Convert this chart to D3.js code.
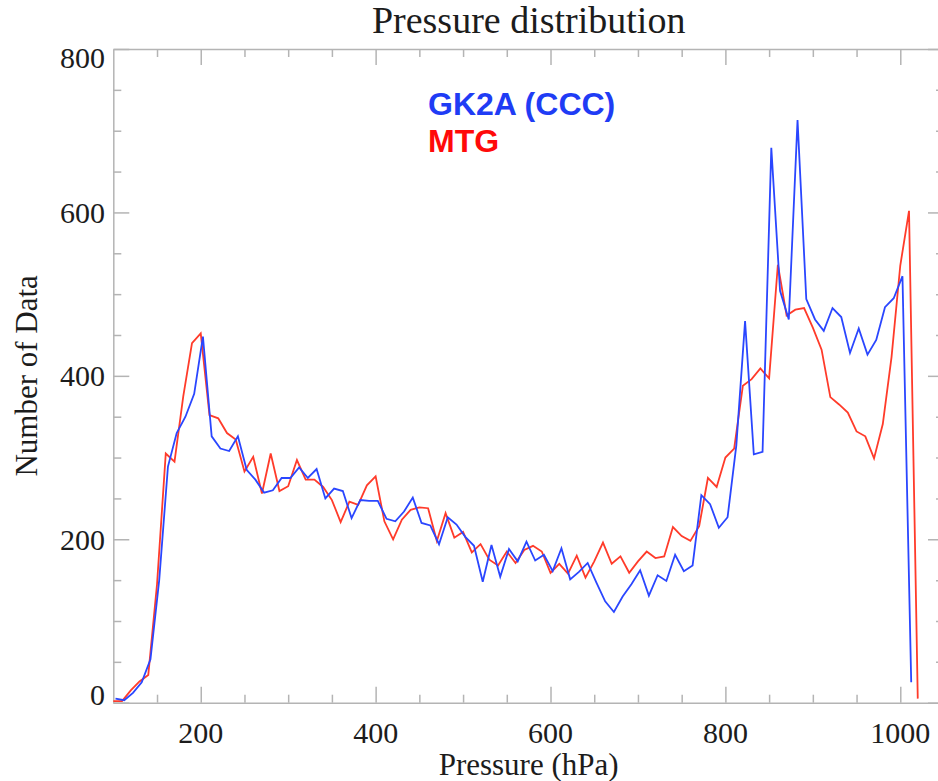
<!DOCTYPE html>
<html>
<head>
<meta charset="utf-8">
<script src="https://cdn.jsdelivr.net/npm/d3@7"></script>
<style>
  body { margin: 0; background: #fff; }
  text { font-family: "Liberation Serif", "Times New Roman", serif; fill: #1c1c1c; }
  .axis path, .axis line { stroke: #b4b4b4; stroke-width: 1.5; fill: none; }
  .legend { font-family: "Liberation Sans", Arial, sans-serif; font-weight: bold; }
</style>
</head>
<body>
<div id="chart"></div>
<script>
// Pressure bins (hPa)
const pressure = [100, 110, 120, 130, 140, 150, 160, 170, 180, 190,
  200, 210, 220, 230, 240, 250, 260, 270, 280, 290,
  300, 310, 320, 330, 340, 350, 360, 370, 380, 390,
  400, 410, 420, 430, 440, 450, 460, 470, 480, 490,
  500, 510, 520, 530, 540, 550, 560, 570, 580, 590,
  600, 610, 620, 630, 640, 650, 660, 670, 680, 690,
  700, 710, 720, 730, 740, 750, 760, 770, 780, 790,
  800, 810, 820, 830, 840, 850, 860, 870, 880, 890,
  900, 910, 920, 930, 940, 950, 960, 970, 980, 990,
  1000, 1010, 1020];

// GK2A (CCC) counts, 100 .. 1010 hPa
const gk2aCount = [5, 3, 12, 25, 53, 150, 289, 330, 350, 378,
  448, 326, 311, 308, 326, 285, 273, 257, 260, 275,
  275, 288, 275, 286, 250, 262, 259, 226, 248, 247,
  247, 225, 222, 234, 251, 220, 217, 194, 227, 218,
  203, 192, 148, 193, 154, 188, 173, 197, 174, 181,
  161, 189, 151, 160, 171, 147, 124, 111, 130, 145,
  162, 131, 156, 149, 181, 161, 168, 254, 243, 214,
  227, 315, 467, 304, 307, 679, 504, 469, 713, 494,
  469, 455, 483, 472, 428, 458, 426, 444, 484, 495,
  522, 25];

// MTG counts, 100 .. 1020 hPa
const mtgCount = [2, 2, 15, 26, 34, 145, 305, 295, 375, 440,
  452, 352, 348, 330, 322, 283, 301, 256, 305, 259,
  265, 297, 273, 273, 264, 248, 221, 246, 242, 266,
  277, 222, 200, 224, 236, 239, 238, 198, 232, 202,
  209, 184, 194, 175, 168, 185, 171, 187, 192, 185,
  159, 170, 158, 180, 153, 173, 196, 170, 179, 159,
  173, 185, 177, 179, 215, 204, 198, 216, 275, 264,
  300, 311, 388, 396, 409, 397, 536, 474, 481, 483,
  459, 432, 374, 365, 355, 332, 326, 299, 341, 423,
  535, 602, 5];

const gk2aShift = 2.5; // GK2A bins sit a little right of the MTG ones

const xMajor = [200, 400, 600, 800, 1000];
const xMinor = [150, 250, 300, 350, 450, 500, 550, 650, 700, 750, 850, 900, 950, 1050];
const yMajor = [0, 200, 400, 600, 800];
const yMinor = [50, 100, 150, 250, 300, 350, 450, 500, 550, 650, 700, 750];

const width = 938, height = 781;
const plotLeft = 113.3, plotRight = 944, plotTop = 49, plotBottom = 702.7;

const svg = d3.select("#chart").append("svg")
    .attr("width", width)
    .attr("height", height);

const x = d3.scaleLinear().domain([100, 1050]).range([plotLeft, plotRight]);
const y = d3.scaleLinear().domain([0, 800]).range([plotBottom, plotTop]);

// axes on all four sides, ticks pointing inward
const sides = [
    { fn: d3.axisBottom, s: x, t: `translate(0,${plotBottom})`, major: xMajor, minor: xMinor },
    { fn: d3.axisTop, s: x, t: `translate(0,${plotTop})`, major: xMajor, minor: xMinor },
    { fn: d3.axisLeft, s: y, t: `translate(${plotLeft},0)`, major: yMajor, minor: yMinor },
    { fn: d3.axisRight, s: y, t: `translate(${plotRight},0)`, major: yMajor, minor: yMinor }
];

sides.forEach(sd => {
    svg.append("g").attr("class", "axis")
        .attr("transform", sd.t)
        .call(sd.fn(sd.s).tickValues(sd.major).tickSizeInner(-16).tickSizeOuter(0).tickFormat(""));
    svg.append("g").attr("class", "axis")
        .attr("transform", sd.t)
        .call(sd.fn(sd.s).tickValues(sd.minor).tickSizeInner(-8).tickSizeOuter(0).tickFormat(""))
        .select(".domain").remove();
});

// tick labels
svg.selectAll(".xlabel")
    .data(xMajor)
    .enter().append("text")
    .attr("class", "xlabel")
    .attr("x", d => x(d))
    .attr("y", 743)
    .attr("text-anchor", "middle")
    .style("font-size", "30px")
    .text(d => d);

svg.selectAll(".ylabel")
    .data(yMajor)
    .enter().append("text")
    .attr("class", "ylabel")
    .attr("x", 105)
    .attr("y", d => d === 0 ? plotBottom - 8 : d === 800 ? y(d) + 8 : y(d))
    .attr("dy", "0.35em")
    .attr("text-anchor", "end")
    .style("font-size", "30px")
    .text(d => d);

// axis titles
svg.append("text")
    .attr("x", (plotLeft + plotRight) / 2)
    .attr("y", 775)
    .attr("text-anchor", "middle")
    .style("font-size", "31px")
    .text("Pressure (hPa)");

svg.append("text")
    .attr("transform", `translate(37,${(plotTop + plotBottom) / 2}) rotate(-90)`)
    .attr("text-anchor", "middle")
    .style("font-size", "31px")
    .text("Number of Data");

svg.append("text")
    .attr("x", (plotLeft + plotRight) / 2)
    .attr("y", 33)
    .attr("text-anchor", "middle")
    .style("font-size", "38px")
    .text("Pressure distribution");

// the two curves
const mtgData = mtgCount.map((v, i) => ({ p: pressure[i], v: v }));
const gk2aData = gk2aCount.map((v, i) => ({ p: pressure[i] + gk2aShift, v: v }));

const line = d3.line()
    .x(d => x(d.p))
    .y(d => y(d.v));

svg.append("path")
    .datum(mtgData)
    .attr("fill", "none")
    .attr("stroke", "#ff3b2a")
    .attr("stroke-width", 1.8)
    .attr("d", line);

svg.append("path")
    .datum(gk2aData)
    .attr("fill", "none")
    .attr("stroke", "#2a46ff")
    .attr("stroke-width", 1.8)
    .attr("d", line);

// legend
svg.append("text")
    .attr("class", "legend")
    .attr("x", 428)
    .attr("y", 115)
    .style("font-size", "32px")
    .style("fill", "#1f3cf5")
    .text("GK2A (CCC)");

svg.append("text")
    .attr("class", "legend")
    .attr("x", 428)
    .attr("y", 152)
    .style("font-size", "32px")
    .style("fill", "#ff0a0a")
    .text("MTG");
</script>
</body>
</html>
